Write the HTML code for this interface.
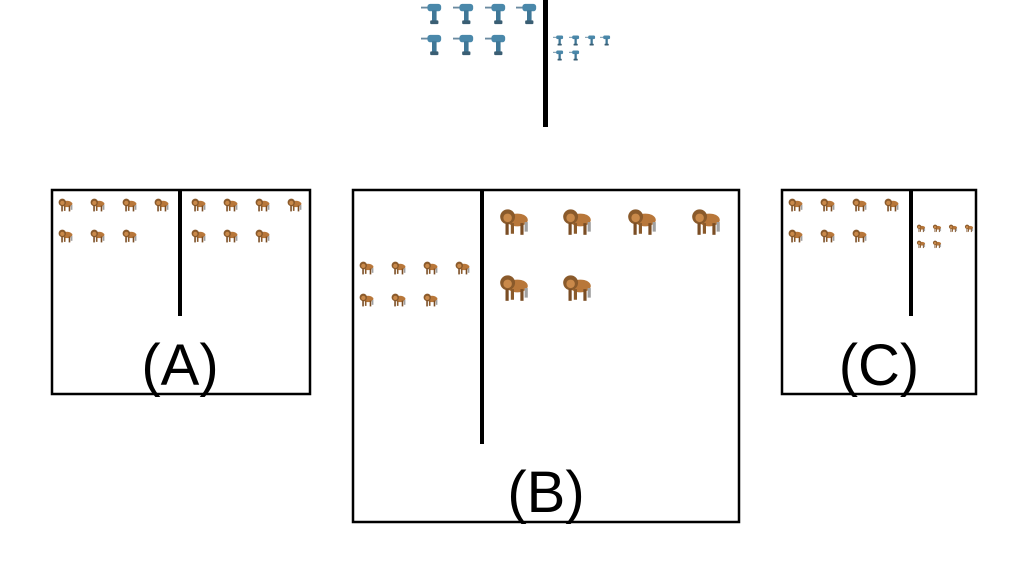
<!DOCTYPE html>
<html><head><meta charset="utf-8"><style>
html,body{margin:0;padding:0;background:#fff;width:1027px;height:574px;overflow:hidden}
text{font-family:"Liberation Sans",sans-serif}
</style></head><body>
<svg width="1027" height="574" viewBox="0 0 1027 574" xmlns="http://www.w3.org/2000/svg">
<defs>
<symbol id="lion" viewBox="0 0 32 32">
<ellipse cx="19" cy="15" rx="10" ry="6" fill="#b8773a"/>
<circle cx="10" cy="12" r="7" fill="#8a5a2b"/>
<circle cx="10" cy="13" r="4" fill="#c9894a"/>
<rect x="8" y="18" width="3" height="11" fill="#7a4d24"/>
<rect x="13" y="18" width="3" height="10" fill="#8a5a2b"/>
<rect x="22" y="18" width="3" height="11" fill="#7a4d24"/>
<rect x="26" y="17" width="3" height="9" fill="#a0a0a0"/>
</symbol>
<symbol id="drill" viewBox="0 0 24 24">
<rect x="0" y="4" width="9" height="2" fill="#6a8aa0"/>
<rect x="7" y="1" width="15" height="8" rx="3" fill="#4a88aa"/>
<rect x="12" y="8" width="5" height="12" fill="#3f7797"/>
<rect x="10" y="19" width="9" height="4" rx="1" fill="#3a5e73"/>
</symbol>
</defs>
<g>
<use href="#drill" x="421" y="3" width="22" height="22"/><use href="#drill" x="453" y="3" width="22" height="22"/><use href="#drill" x="485" y="3" width="22" height="22"/><use href="#drill" x="516" y="3" width="22" height="22"/>
<use href="#drill" x="421" y="34" width="22" height="22"/><use href="#drill" x="453" y="34" width="22" height="22"/><use href="#drill" x="485" y="34" width="22" height="22"/>
<rect x="543" y="0" width="5" height="127" fill="#000"/>
<use href="#drill" x="553" y="35" width="11" height="11"/><use href="#drill" x="569" y="35" width="11" height="11"/><use href="#drill" x="585" y="35" width="11" height="11"/><use href="#drill" x="600" y="35" width="11" height="11"/>
<use href="#drill" x="553" y="50" width="11" height="11"/><use href="#drill" x="569" y="50" width="11" height="11"/>
</g>
<g>
<rect x="52" y="190" width="258" height="204" fill="none" stroke="#000" stroke-width="2.5"/>
<rect x="178" y="189" width="4" height="127" fill="#000"/>
<use href="#lion" x="57" y="196" width="17" height="17"/><use href="#lion" x="89" y="196" width="17" height="17"/><use href="#lion" x="121" y="196" width="17" height="17"/><use href="#lion" x="153" y="196" width="17" height="17"/>
<use href="#lion" x="57" y="227" width="17" height="17"/><use href="#lion" x="89" y="227" width="17" height="17"/><use href="#lion" x="121" y="227" width="17" height="17"/>
<use href="#lion" x="190" y="196" width="17" height="17"/><use href="#lion" x="222" y="196" width="17" height="17"/><use href="#lion" x="254" y="196" width="17" height="17"/><use href="#lion" x="286" y="196" width="17" height="17"/>
<use href="#lion" x="190" y="227" width="17" height="17"/><use href="#lion" x="222" y="227" width="17" height="17"/><use href="#lion" x="254" y="227" width="17" height="17"/>
<text x="180" y="385" font-size="58" text-anchor="middle">(A)</text>
</g>
<g>
<rect x="353" y="190" width="386" height="332" fill="none" stroke="#000" stroke-width="2.5"/>
<rect x="480" y="189" width="4" height="255" fill="#000"/>
<use href="#lion" x="358" y="259" width="17" height="17"/><use href="#lion" x="390" y="259" width="17" height="17"/><use href="#lion" x="422" y="259" width="17" height="17"/><use href="#lion" x="454" y="259" width="17" height="17"/>
<use href="#lion" x="358" y="291" width="17" height="17"/><use href="#lion" x="390" y="291" width="17" height="17"/><use href="#lion" x="422" y="291" width="17" height="17"/>
<use href="#lion" x="497" y="204" width="34" height="34"/><use href="#lion" x="560" y="204" width="34" height="34"/><use href="#lion" x="625" y="204" width="34" height="34"/><use href="#lion" x="689" y="204" width="34" height="34"/>
<use href="#lion" x="497" y="270" width="34" height="34"/><use href="#lion" x="560" y="270" width="34" height="34"/>
<text x="546" y="512" font-size="58" text-anchor="middle">(B)</text>
</g>
<g>
<rect x="782" y="190" width="194" height="204" fill="none" stroke="#000" stroke-width="2.5"/>
<rect x="909" y="189" width="4" height="127" fill="#000"/>
<use href="#lion" x="787" y="196" width="17" height="17"/><use href="#lion" x="819" y="196" width="17" height="17"/><use href="#lion" x="851" y="196" width="17" height="17"/><use href="#lion" x="883" y="196" width="17" height="17"/>
<use href="#lion" x="787" y="227" width="17" height="17"/><use href="#lion" x="819" y="227" width="17" height="17"/><use href="#lion" x="851" y="227" width="17" height="17"/>
<use href="#lion" x="916" y="223" width="10" height="10"/><use href="#lion" x="932" y="223" width="10" height="10"/><use href="#lion" x="948" y="223" width="10" height="10"/><use href="#lion" x="964" y="223" width="10" height="10"/>
<use href="#lion" x="916" y="239" width="10" height="10"/><use href="#lion" x="932" y="239" width="10" height="10"/>
<text x="879" y="385" font-size="58" text-anchor="middle">(C)</text>
</g>
</svg>
</body></html>
